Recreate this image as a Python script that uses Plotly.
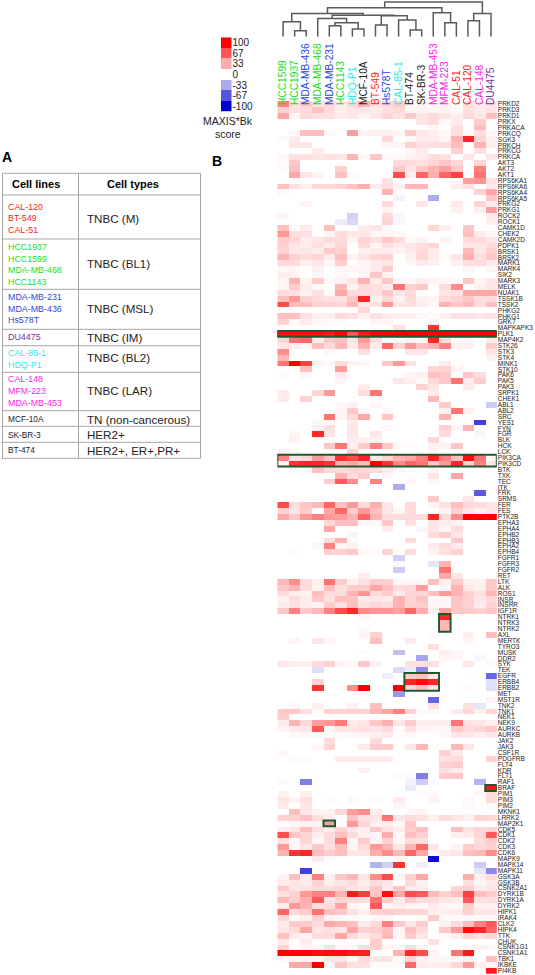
import plotly.graph_objects as go

W, H = 535, 975
FONT = "Liberation Sans, Arial, sans-serif"

COLUMNS = ["HCC1599","HCC1937","MDA-MB-436","MDA-MB-468","MDA-MB-231","HCC1143","HDQ-P1","MCF-10A","BT-549","Hs578T",
           "CAL-85-1","BT-474","SK-BR-3","MDA-MB-453","MFM-223","CAL-51","CAL-120","CAL-148","DU4475"]
GREEN, BLUE, CYAN, BLACK, RED, MAGENTA, PURPLE = "#22DD22","#2A48E0","#22EEEE","#222222","#FF2222","#FF22EE","#7030A0"
COLUMN_COLORS = [GREEN,GREEN,BLUE,GREEN,BLUE,GREEN,CYAN,BLACK,RED,BLUE,CYAN,BLACK,BLACK,MAGENTA,MAGENTA,RED,RED,MAGENTA,PURPLE]

ROWS = """PRKD2 PRKD3 PRKD1 PRKX PRKACA PRKCQ SGK3 PRKCH PRKCG PRKCA AKT3 AKT2 AKT1 RPS6KA1 RPS6KA6 RPS6KA4 RPS6KA5 PRKG2 PRKG1
ROCK2 ROCK1 CAMK1D CHEK2 CAMK2D PDPK1 BRSK1 BRSK2 MARK1 MARK4 SIK2 MARK3 MELK NUAK1 TSSK1B TSSK2 PHKG2 PHKG1 GRK7 MAPKAPK3 PLK1
MAP4K2 STK26 STK3 STK4 MINK1 STK10 PAK6 PAK5 PAK3 SRPK1 CHEK1 ABL1 ABL2 SRC YES1 FYN FGR BLK HCK LCK PIK3CA PIK3CD BTK TXK TEC ITK FRK
SRMS FER FES PTK2B EPHA3 EPHA4 EPHB2 EPHB3 EPHA2 EPHB4 FGFR1 FGFR3 FGFR2 RET LTK ALK ROS1 INSR INSRR IGF1R NTRK1 NTRK3 NTRK2 AXL MERTK
TYRO3 MUSK DDR2 SYK TEK EGFR ERBB4 ERBB2 MET MST1R TNK2 TNK1 NEK1 NEK9 AURKC AURKB JAK2 JAK3 CSF1R PDGFRB FLT4 KDR FLT1 RAF1 BRAF PIM1
PIM3 PIM2 MKNK1 LRRK2 MAP2K1 CDK5 CDK1 CDK2 CDK3 CDK6 MAPK9 MAPK14 MAPK11 GSK3A GSK3B CSNK2A1 DYRK1B DYRK1A DYRK2 HIPK1 IRAK4 CLK2 HIPK4
TTK CHUK CSNK1G1 CSNK1A1 TBK1 IKBKE PI4KB""".split()

SCORES = [
[50,12,20,12,15,7,14,30,10,15,20,4,5,2,5,0,12,7,10],
[18,12,14,24,14,6,10,10,8,12,15,4,5,3,5,2,12,8,10],
[35,4,14,12,12,8,10,5,10,16,12,22,10,14,10,6,15,10,25],
[0,0,0,0,0,0,0,0,0,0,0,0,10,14,3,8,0,20,0],
[0,0,0,0,0,0,0,0,0,0,0,0,0,3,0,12,0,25,0],
[0,3,25,25,2,0,38,5,6,6,3,20,10,6,3,12,2,12,3],
[2,8,0,0,0,0,0,0,0,15,0,3,8,8,4,30,85,16,6],
[0,10,10,0,0,0,0,0,0,3,4,18,12,12,14,25,0,30,6],
[0,0,0,8,0,0,0,0,0,0,0,3,8,0,0,18,0,12,0],
[3,12,12,10,12,10,30,3,22,2,2,5,8,14,12,0,10,0,10],
[2,22,0,0,0,0,0,0,0,0,14,14,12,16,22,16,0,16,0],
[2,25,0,0,0,18,0,0,0,0,22,10,22,30,38,22,0,50,0],
[0,35,10,5,0,25,2,0,0,0,70,6,60,32,60,75,0,55,0],
[0,0,0,0,0,0,0,0,0,12,0,0,0,0,0,0,38,42,12],
[25,12,6,16,16,18,24,32,8,12,6,28,28,2,0,8,12,0,8],
[3,0,0,0,0,0,0,0,0,30,0,0,0,0,0,0,0,18,35],
[0,0,0,0,0,0,0,0,0,0,-5,0,0,-33,0,0,0,0,22],
[0,0,4,0,0,0,0,0,0,14,0,0,10,0,0,8,0,16,8],
[0,0,0,0,0,0,0,0,0,5,0,0,0,0,0,6,0,6,38],
[4,0,0,0,0,0,-18,0,0,15,-3,0,0,0,0,0,0,0,8],
[0,0,0,0,0,-8,-15,0,0,18,-3,0,0,0,0,0,0,0,6],
[25,2,8,0,25,0,0,8,10,2,0,0,0,16,6,0,22,0,0],
[40,12,12,0,4,14,10,10,4,4,3,0,0,0,0,0,25,8,3],
[20,16,8,10,14,14,5,16,12,22,14,2,5,0,4,0,14,14,10],
[18,10,8,12,8,16,0,14,4,12,8,10,12,16,0,0,10,10,14],
[18,10,10,8,20,18,0,6,8,8,5,8,14,8,0,0,28,10,18],
[30,18,14,16,8,25,5,10,16,18,0,6,16,8,2,10,32,12,22],
[15,14,6,10,3,18,0,4,8,10,0,3,8,6,0,6,12,14,8],
[4,4,0,6,0,4,3,3,8,20,0,0,0,0,0,0,4,0,4],
[7,6,0,3,0,3,0,3,22,5,0,0,0,0,0,0,0,0,0],
[4,30,5,20,3,5,10,30,8,22,4,3,6,5,3,3,22,4,10],
[4,20,8,2,0,28,5,14,12,8,55,18,22,0,14,45,0,6,10],
[14,12,6,12,3,35,14,14,12,22,10,14,0,0,10,12,35,35,35],
[25,40,18,14,12,12,22,85,6,15,5,14,6,4,14,18,22,14,14],
[70,25,25,18,18,16,28,8,12,40,10,12,8,3,30,22,28,14,25],
[0,0,0,0,0,0,0,15,0,0,0,0,0,0,0,0,0,0,0],
[25,25,12,6,6,14,12,6,12,8,6,6,3,2,6,12,12,10,12],
[18,2,8,3,2,2,0,0,4,4,0,0,0,5,0,0,0,0,0],
[0,0,0,0,0,0,0,0,0,0,12,0,0,80,0,0,0,0,0],
[95,95,95,95,90,100,65,90,100,100,100,100,100,100,100,100,100,100,100],
[16,55,60,8,22,25,10,40,14,3,4,5,4,85,14,2,4,0,8],
[10,8,4,25,14,28,8,30,8,60,18,40,25,30,50,5,6,0,20],
[45,0,0,0,3,0,0,12,0,0,0,10,10,0,0,0,0,0,10],
[28,0,0,0,0,0,0,0,0,0,0,0,0,0,0,0,0,0,5],
[55,100,75,5,3,14,6,4,0,22,40,12,0,0,8,0,0,0,0],
[0,0,25,0,0,38,0,0,0,0,0,0,0,16,18,5,0,0,0],
[2,0,4,0,0,8,0,0,0,0,0,4,6,25,22,0,22,14,0],
[0,0,0,0,0,3,0,0,0,0,10,6,2,14,22,55,8,20,0],
[0,0,0,0,0,0,0,8,0,0,0,0,18,10,0,0,8,0,0],
[8,0,0,16,40,0,0,14,55,0,0,0,0,8,0,0,0,0,0],
[8,0,18,0,0,0,0,0,0,0,0,0,0,28,0,0,0,0,0],
[0,0,0,0,0,3,6,0,3,0,0,0,0,0,20,0,0,0,-20],
[0,0,0,0,0,4,22,3,0,3,0,0,0,0,6,55,6,0,0],
[0,0,0,0,55,5,14,35,0,22,0,0,0,0,30,0,0,0,0],
[0,0,0,3,3,0,8,0,0,0,0,0,0,0,0,0,0,-75,0],
[0,0,0,6,12,0,10,0,0,3,0,0,0,0,18,5,30,0,0],
[0,4,0,85,10,0,10,0,10,0,0,0,0,0,14,0,0,-3,0],
[0,6,0,0,0,0,8,6,6,0,0,0,0,16,0,0,0,0,0],
[0,0,0,0,22,55,5,20,50,22,2,2,0,5,5,22,0,0,0],
[6,3,0,0,0,0,18,0,0,0,0,0,0,3,0,0,0,0,0],
[50,12,15,40,25,80,70,85,10,18,30,35,50,88,50,25,95,55,3],
[5,80,85,85,80,30,35,25,100,80,45,60,55,22,40,85,18,50,10],
[0,3,3,25,15,14,16,15,14,8,3,0,0,3,0,0,0,0,0],
[0,0,0,0,0,30,14,20,0,4,0,0,0,10,0,35,0,0,0],
[0,0,0,0,20,65,45,0,50,0,0,3,0,3,0,0,0,0,0],
[0,0,0,0,0,0,0,0,0,0,-33,0,0,0,0,0,0,0,0],
[0,0,0,0,0,0,0,0,0,0,0,0,0,0,0,0,0,-65,0],
[0,0,0,0,0,2,0,0,0,0,0,0,0,22,0,0,10,0,0],
[70,12,22,28,60,25,40,15,32,10,0,14,0,5,12,25,15,14,10],
[18,10,20,0,35,60,20,40,25,10,4,14,0,0,5,18,10,5,10],
[35,22,40,50,40,38,30,60,30,14,14,14,14,85,15,45,100,100,100],
[0,0,0,0,16,25,25,3,3,22,0,12,0,10,8,5,0,0,0],
[0,0,0,0,35,0,0,0,0,8,0,0,-3,10,3,14,0,0,0],
[0,0,0,0,0,0,5,0,0,0,0,0,0,14,20,10,0,0,0],
[0,0,0,0,14,30,0,0,0,0,0,14,0,0,0,22,0,0,0],
[0,0,0,-3,50,3,6,0,0,0,0,0,0,8,14,8,0,0,0],
[0,2,0,0,18,18,22,3,0,18,0,14,0,5,12,18,0,0,0],
[0,0,0,0,0,0,0,0,0,0,-18,0,0,0,0,0,0,0,0],
[0,0,0,0,0,0,0,0,0,0,-2,0,0,-10,30,0,0,0,0],
[0,0,0,0,0,0,0,0,0,0,-20,0,0,0,55,0,0,0,0],
[0,0,0,0,0,0,0,8,0,0,0,0,0,0,35,10,0,0,0],
[28,45,14,6,55,20,6,12,20,18,3,3,3,25,6,20,6,5,22],
[22,30,14,5,25,12,20,20,35,25,14,15,38,0,3,30,10,6,22],
[14,6,5,25,15,14,30,42,14,20,8,16,16,25,40,30,18,12,28],
[5,14,8,22,12,26,24,8,10,8,30,16,24,3,3,22,18,10,15],
[8,12,8,5,20,12,25,12,16,14,30,18,20,3,3,22,18,8,18],
[22,50,20,28,50,70,85,45,42,42,38,60,32,6,35,22,20,18,22],
[0,0,0,0,0,0,0,3,0,0,1,0,0,0,85,0,0,0,0],
[0,0,0,0,0,0,0,0,0,0,0,0,0,0,28,0,0,0,0],
[0,0,0,0,0,0,0,2,0,0,0,0,0,0,28,0,0,0,0],
[0,0,0,0,0,0,0,4,18,0,0,0,0,2,0,0,6,0,25],
[0,5,0,10,3,0,0,0,25,0,0,8,0,0,0,0,3,0,0],
[0,0,0,0,0,0,0,0,0,0,0,0,0,12,0,0,0,0,0],
[0,0,0,0,0,0,0,2,0,0,-25,0,0,0,6,3,0,0,0],
[0,0,0,0,0,0,0,0,0,0,0,0,-35,0,4,3,0,-3,0],
[10,7,6,14,18,4,2,22,5,0,0,12,12,12,0,0,10,0,3],
[0,0,0,-12,0,0,0,0,0,0,-15,-8,-45,0,0,0,0,0,0],
[0,0,0,0,0,0,1,1,0,-7,0,20,25,10,0,0,1,1,-60],
[0,0,0,18,0,0,0,0,0,0,0,85,95,85,0,0,0,0,-12],
[0,0,0,80,0,2,45,100,0,0,100,15,25,10,0,0,-2,0,-12],
[0,0,0,0,0,0,0,0,0,0,-40,0,0,0,0,0,0,0,0],
[0,0,0,0,0,0,0,0,0,0,0,0,0,-60,0,0,0,0,5],
[0,3,0,6,0,0,6,0,25,0,0,0,0,12,0,0,12,-10,0],
[22,22,12,2,18,18,18,18,28,36,50,18,2,3,0,8,16,6,16],
[20,0,0,0,0,0,0,0,0,0,0,0,0,0,0,0,0,0,0],
[8,30,16,38,40,52,8,10,22,32,10,20,6,6,8,55,12,10,6],
[4,8,10,65,4,10,10,12,10,14,2,12,3,3,3,20,14,16,22],
[0,3,3,3,2,2,3,4,6,8,0,3,0,0,3,10,10,6,10],
[0,0,0,0,14,0,0,0,14,0,0,0,0,0,0,0,0,0,0],
[0,0,0,3,18,0,0,8,20,20,0,10,28,2,0,28,10,0,0],
[3,0,0,0,0,0,0,0,0,0,0,0,0,0,18,8,0,0,1],
[0,2,2,0,0,8,8,8,8,8,0,0,0,0,12,14,0,0,18],
[0,0,0,0,0,0,0,0,0,0,0,0,0,0,18,20,0,0,0],
[0,0,0,0,0,0,0,6,0,0,0,0,0,0,12,8,0,0,0],
[0,0,0,0,0,0,0,0,0,0,-2,-2,-50,0,20,22,0,0,0],
[-2,0,-50,0,0,0,0,0,0,0,0,-5,-20,-2,0,0,0,-30,0],
[0,0,0,0,0,0,0,0,0,0,0,-8,0,0,0,0,0,0,92],
[6,0,6,0,0,0,0,0,0,0,0,0,2,3,0,0,0,4,14],
[10,5,12,0,2,0,3,0,3,0,8,0,0,5,0,0,3,0,14],
[8,0,10,0,0,0,0,0,0,0,3,0,0,0,0,0,2,0,2],
[0,25,10,5,5,16,38,45,8,0,0,3,4,0,0,0,2,0,0],
[18,18,24,12,8,0,24,12,10,55,10,14,12,6,14,10,6,18,16],
[0,3,5,6,38,0,40,16,6,8,3,22,0,0,0,0,0,0,0],
[8,10,25,12,8,18,10,6,22,12,8,20,25,0,0,25,12,16,18],
[70,22,16,8,14,25,14,6,4,32,3,25,18,0,0,6,8,16,65],
[12,3,16,3,14,50,3,20,5,18,3,14,12,0,0,0,0,14,20],
[40,3,10,22,12,25,5,14,40,30,10,30,60,10,0,5,20,15,18],
[30,80,85,25,20,25,10,10,32,45,28,60,35,3,8,10,25,28,45],
[0,0,0,8,2,0,0,0,0,0,4,0,0,-95,0,0,0,0,0],
[0,0,0,0,0,0,0,0,-30,-18,80,0,-6,0,0,0,0,-20,0],
[0,0,-75,0,0,0,0,0,0,0,0,0,0,0,0,0,0,-10,-45],
[5,25,8,50,6,22,28,10,45,70,4,18,35,0,0,0,32,6,14],
[8,10,8,18,6,10,14,6,14,10,0,14,6,0,0,0,12,3,8],
[22,10,12,14,14,16,10,10,22,8,22,8,8,0,0,16,18,8,10],
[12,18,40,50,50,30,90,75,22,95,35,70,65,28,18,25,75,25,20],
[28,20,32,65,10,16,14,12,55,20,8,20,14,14,10,8,65,12,12],
[8,40,30,12,14,35,4,2,65,3,8,4,3,8,3,3,20,6,6],
[60,14,20,55,25,22,12,6,18,20,18,16,16,6,6,8,18,10,10],
[16,2,6,18,5,2,2,2,3,3,0,0,2,20,2,2,3,3,3],
[8,22,20,14,35,30,25,8,14,50,22,10,20,0,6,14,25,50,65],
[10,14,35,10,12,10,35,18,20,25,3,25,14,0,22,40,95,85,60],
[25,8,4,14,14,35,14,8,14,28,4,20,10,0,2,6,16,12,16],
[8,0,8,0,0,0,0,0,20,0,0,0,0,12,0,0,0,0,0],
[18,0,3,4,12,2,2,12,18,4,3,14,5,0,0,0,3,5,3],
[100,100,100,95,95,95,90,88,0,0,30,85,70,5,0,55,90,0,0],
[3,5,6,4,10,10,3,14,10,10,2,16,6,3,3,3,6,0,25],
[0,35,35,100,3,22,12,12,2,2,2,60,8,6,8,16,40,6,3],
[0,0,0,0,0,0,0,0,0,0,0,0,0,0,0,0,0,0,90],
]
assert len(ROWS) == len(SCORES), (len(ROWS), len(SCORES))
for name, r in zip(ROWS, SCORES):
    assert len(r) == len(COLUMNS), (name, len(r))

# dendrogram: (merge height, left, right); a leaf is a column index
TREE = (34.7,
        (29.0,
         (23.3, (15.0, 0, (6.0, 1, 2)),
          (21.5, (18.3, 3, (14.0, (11.0, 4, 5), (7.7, 6, 7))),
           (21.0, (11.7, 8, 9), (16.7, 10, (6.7, 11, 12))))),
         (24.0, 13, (14.0, 14, 15))),
        (23.3, (16.0, 16, 17), 18))

LEGEND_VALUES = [100, 67, 33, 0, -33, -67, -100]
HIGHLIGHTS = [("PLK1","PLK1",0,18),("PIK3CA","PIK3CD",0,18),("NTRK1","NTRK2",14,14),("EGFR","ERBB2",11,13),
              ("BRAF","BRAF",18,18),("MAP2K1","MAP2K1",4,4)]

TABLE_GROUPS = [
 (["CAL-120","BT-549","CAL-51"], RED, "TNBC (M)"),
 (["HCC1937","HCC1599","MDA-MB-468","HCC1143"], GREEN, "TNBC (BL1)"),
 (["MDA-MB-231","MDA-MB-436","Hs578T"], BLUE, "TNBC (MSL)"),
 (["DU4475"], PURPLE, "TNBC (IM)"),
 (["CAL-85-1","HDQ-P1"], CYAN, "TNBC (BL2)"),
 (["CAL-148","MFM-223","MDA-MB-453"], MAGENTA, "TNBC (LAR)"),
 (["MCF-10A"], BLACK, "TN (non-cancerous)"),
 (["SK-BR-3"], BLACK, "HER2+"),
 (["BT-474"], BLACK, "HER2+, ER+,PR+"),
]
LINE_Y = [[206.7,218,230],[247,258.7,270.3,282],[297,308.7,320.3],[337],[353,365],[379.3,391,403],[419],[434.5],[450]]
TYPE_Y = [218,263,308,337,358,390.5,419,434.5,450]
HLINES = [173.3,195,239,289.3,329.3,345.7,372.3,410.7,426.3,442.3,458.3]

px = lambda x: x / W
py = lambda y: 1 - y / H
SCALE = [[0,"#0000CC"],[0.5,"#FFFFFF"],[1,"#FF0000"]]
X0, X1, Y0, Y1 = 277.3, 496.8, 101.0, 973.7
DY = 36.7   # dendrogram baseline

fig = go.Figure()
fig.add_trace(go.Heatmap(z=SCORES, x=list(range(len(COLUMNS))), y=list(range(len(ROWS))), colorscale=SCALE,
                         zmin=-100, zmax=100, showscale=False, xgap=0, ygap=0, xaxis="x", yaxis="y"))

# dendrogram
dx, dy = [], []
def walk(n):
    if isinstance(n, int):
        return n, 0.0
    h, a, b = n
    xa, ha = walk(a)
    xb, hb = walk(b)
    dx.extend([xa, xa, xb, xb, None])
    dy.extend([ha, h, h, hb, None])
    return (xa + xb) / 2, h
walk(TREE)
fig.add_trace(go.Scatter(x=dx, y=dy, mode="lines", line=dict(color="#5A5A5A", width=1.5), xaxis="x2", yaxis="y2",
                         showlegend=False, hoverinfo="skip"))

# legend
fig.add_trace(go.Heatmap(z=[[v] for v in LEGEND_VALUES], y=list(range(7)), x=[0], colorscale=SCALE, zmin=-100, zmax=100,
                         showscale=False, xaxis="x3", yaxis="y3"))

shapes = []
for a, b, c0, c1 in HIGHLIGHTS:
    shapes.append(dict(type="rect", xref="x", yref="y", x0=c0-0.5, x1=c1+0.5,
                       y0=ROWS.index(a)-0.5, y1=ROWS.index(b)+0.5, line=dict(color="#1F5A2E", width=2)))
# table grid
grid = dict(color="#A6A6A6", width=1)
for y in HLINES:
    shapes.append(dict(type="line", xref="paper", yref="paper", x0=px(2.5), x1=px(200.5), y0=py(y), y1=py(y), line=grid))
for x in (2.5, 78.5, 200.5):
    shapes.append(dict(type="line", xref="paper", yref="paper", x0=px(x), x1=px(x), y0=py(173.3), y1=py(458.3), line=grid))

ann = []
def text(x, y, s, size, color="#222222", anchor="left", bold=False):
    ann.append(dict(x=px(x), y=py(y), xref="paper", yref="paper", text=f"<b>{s}</b>" if bold else s, showarrow=False,
                    xanchor=anchor, yanchor="middle", font=dict(size=size, color=color, family=FONT), borderpad=0, borderwidth=0))

text(2, 157.5, "A", 14, "#000000", bold=True)
text(212, 161, "B", 14, "#000000", bold=True)
text(228, 120.5, "MAXIS*Bk", 10.5, anchor="center")
text(228, 133.5, "score", 10.5, anchor="center")
text(36, 184, "Cell lines", 11, "#000000", "center", True)
text(133, 184, "Cell types", 11, "#000000", "center", True)
for (lines, col, kind), ys, ty in zip(TABLE_GROUPS, LINE_Y, TYPE_Y):
    size = 8.3 if col == BLACK else 8.9
    for s, y in zip(lines, ys):
        text(8, y, s, size, col)
    text(87, ty, kind, 11.6)

fig.update_layout(
    width=W, height=H, margin=dict(l=0, r=0, t=0, b=0), paper_bgcolor="white", plot_bgcolor="white",
    showlegend=False, shapes=shapes, annotations=ann, font=dict(family=FONT),
    xaxis=dict(domain=[px(X0), px(X1)], range=[-0.5, 18.5], side="top", tickmode="array", tickvals=list(range(len(COLUMNS))),
               ticktext=[f'<span style="color:{c}">{n}</span>' for n, c in zip(COLUMNS, COLUMN_COLORS)], tickangle=-90,
               tickfont=dict(size=10.2, family=FONT), ticklabelstandoff=-5, showgrid=False, zeroline=False, ticks="", showline=False, anchor="y"),
    yaxis=dict(domain=[py(Y1), py(Y0)], range=[len(ROWS)-0.5, -0.5], side="right", tickmode="array",
               tickvals=list(range(len(ROWS))), ticktext=ROWS, tickfont=dict(size=6.5, color="#222222", family=FONT),
               showgrid=False, zeroline=False, ticks="", showline=False, anchor="x"),
    xaxis2=dict(domain=[px(X0), px(X1)], range=[-0.5, 18.5], visible=False, anchor="y2"),
    yaxis2=dict(domain=[py(DY), py(0)], range=[0, DY], visible=False, anchor="x2"),
    xaxis3=dict(domain=[px(221), px(231.5)], range=[-0.5, 0.5], visible=False, anchor="y3"),
    yaxis3=dict(domain=[py(111.7), py(37.3)], range=[6.5, -0.5], side="right", tickmode="array", tickvals=list(range(7)),
                ticktext=[str(v) for v in LEGEND_VALUES], tickfont=dict(size=10, color="#222222", family=FONT),
                showgrid=False, zeroline=False, ticks="", anchor="x3"),
)
fig.write_html("out.html", config=dict(displayModeBar=False),
               post_script="document.body.style.margin='0';document.documentElement.style.overflow='hidden';")
